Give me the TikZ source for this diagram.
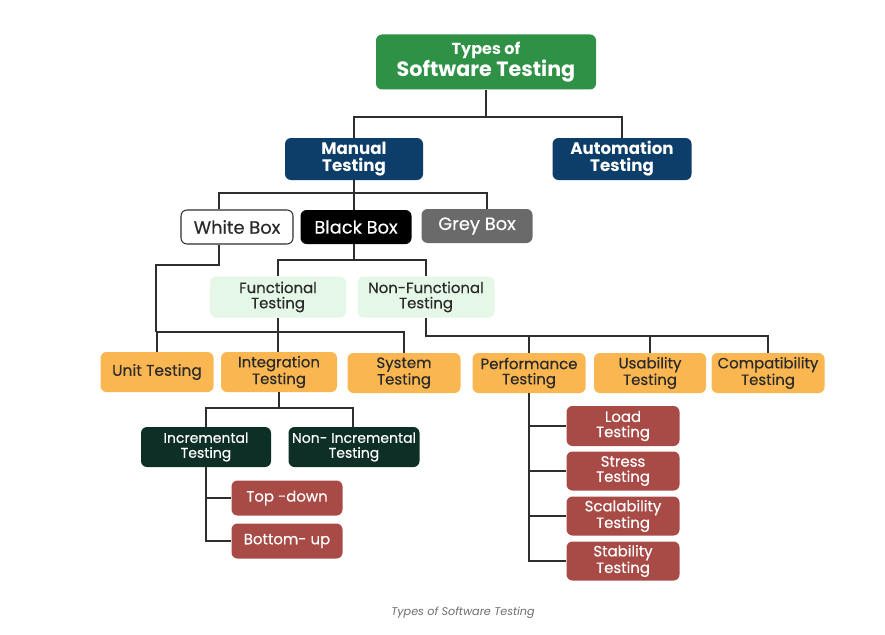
\documentclass[tikz,border=0pt]{standalone}
\usepackage{fontspec}
\setmainfont{Poppins}
\newfontfamily\medfont{Poppins}[FakeBold=0.35]
\usetikzlibrary{calc}
\definecolor{cgreen}{HTML}{2F9146}
\definecolor{cblue}{HTML}{0D3E69}
\definecolor{cgrey}{HTML}{6A6A6A}
\definecolor{clgreen}{HTML}{E5F7E7}
\definecolor{corange}{HTML}{FAB650}
\definecolor{cdkgreen}{HTML}{0E2F25}
\definecolor{cred}{HTML}{A84A45}
\definecolor{cline}{HTML}{2E2E2E}
\definecolor{ctext}{HTML}{2A2A2A}
\definecolor{ccap}{HTML}{6E6E6E}
\begin{document}
\begin{tikzpicture}[x=0.75pt,y=-0.75pt,
  box/.style={rounded corners=4.5pt, align=center, inner sep=0pt, font=\medfont\fontsize{11.2}{11.4}\selectfont},
  conn/.style={draw=cline, line width=2.1pt},
  rootbox/.style={box, fill=cgreen, text=white, font=\rmfamily\bfseries},
  bluebox/.style={box, fill=cblue, text=white, font=\rmfamily\fontsize{12.5}{12.6}\selectfont\bfseries},
  orangebox/.style={box, fill=corange, text=ctext},
  lgbox/.style={box, fill=clgreen, text=ctext},
  dgbox/.style={box, fill=cdkgreen, text=white, font=\medfont\fontsize{10.5}{11.2}\selectfont},
  redbox/.style={box, fill=cred, text=white},
  wbstyle/.style={box, font=\medfont\fontsize{13.4}{14}\selectfont},
]
\useasboundingbox[fill=white] (0,0) rectangle (885,635);

% nodes
\node[rootbox, minimum width=220*0.75pt, minimum height=55*0.75pt] (root) at (486,62)
  {{\fontsize{12}{13}\selectfont Types of}\\[0pt]{\fontsize{15.5}{15.5}\selectfont Software Testing}};
\node[bluebox, minimum width=138*0.75pt, minimum height=42*0.75pt] (man) at (354,159) {Manual\\Testing};
\node[bluebox, minimum width=139*0.75pt, minimum height=42*0.75pt] (auto) at (622,159) {Automation\\Testing};

\node[wbstyle, draw=cline, line width=0.8pt, fill=white, text=ctext, minimum width=112*0.75pt, minimum height=34*0.75pt] (wb) at (237,227) {White Box};
\node[wbstyle, fill=black, text=white, minimum width=111*0.75pt, minimum height=34*0.75pt] (bb) at (356,227) {Black Box};
\node[wbstyle, fill=cgrey, text=white, minimum width=111*0.75pt, minimum height=34*0.75pt] (gb) at (477,226) {Grey Box};

\node[lgbox, minimum width=136*0.75pt, minimum height=41*0.75pt] (fun) at (278,297) {Functional\\Testing};
\node[lgbox, minimum width=137*0.75pt, minimum height=41*0.75pt] (nf) at (426,297) {Non-Functional\\Testing};

\node[orangebox, minimum width=113*0.75pt, minimum height=40*0.75pt, font=\medfont\fontsize{11.6}{12}\selectfont] (unit) at (157,372) {Unit Testing};
\node[orangebox, minimum width=116*0.75pt, minimum height=40*0.75pt] (integ) at (279,372) {Integration\\Testing};
\node[orangebox, minimum width=113*0.75pt, minimum height=40*0.75pt] (sys) at (404,373) {System\\Testing};
\node[orangebox, minimum width=113*0.75pt, minimum height=40*0.75pt] (perf) at (529,373) {Performance\\Testing};
\node[orangebox, minimum width=112*0.75pt, minimum height=40*0.75pt] (usa) at (650,373) {Usability\\Testing};
\node[orangebox, minimum width=113*0.75pt, minimum height=40*0.75pt] (comp) at (768,373) {Compatibility\\Testing};

\node[dgbox, minimum width=130*0.75pt, minimum height=40*0.75pt] (inc) at (206,447) {Incremental\\Testing};
\node[dgbox, minimum width=131*0.75pt, minimum height=40*0.75pt] (ninc) at (354,447) {Non- Incremental\\Testing};

\node[redbox, minimum width=111*0.75pt, minimum height=35*0.75pt] (td) at (287,498) {Top -down};
\node[redbox, minimum width=111*0.75pt, minimum height=35*0.75pt] (bu) at (287,541) {Bottom- up};

\node[redbox, minimum width=113*0.75pt, minimum height=40*0.75pt] (load) at (623,426) {Load\\Testing};
\node[redbox, minimum width=113*0.75pt, minimum height=39*0.75pt] (stress) at (623,471) {Stress\\Testing};
\node[redbox, minimum width=113*0.75pt, minimum height=39*0.75pt] (scal) at (623,516) {Scalability\\Testing};
\node[redbox, minimum width=113*0.75pt, minimum height=39*0.75pt] (stab) at (623,561) {Stability\\Testing};

\node[font=\fontsize{8.4}{10}\selectfont\itshape, text=ccap] (cap) at (463,613) {Types of Software Testing};

% junction coordinates
\coordinate (j1) at (486,117);
\coordinate (j2) at (354,193);
\coordinate (wbx) at (219,0);
\coordinate (gbx) at (487,0);
\coordinate (j3) at (354,260);
\coordinate (wbd) at (219,265);
\coordinate (j4) at (156,332);
\coordinate (j5) at (426,336);
\coordinate (j6) at (279,408);
\coordinate (incx) at (206,0);
\coordinate (nincx) at (353,0);
\coordinate (perfx) at (529,0);

% connectors
\draw[conn] (root.south) -- (j1);
\draw[conn] (man.north) |- (j1) -| (auto.north);
\draw[conn] (man.south) -- (j2);
\draw[conn] (wb.north -| wbx) |- (j2) -| (gb.north -| gbx);
\draw[conn] (j2) -- (bb.north -| j2);
\draw[conn] (bb.south -| j3) -- (j3);
\draw[conn] (fun.north) |- (j3) -| (nf.north);
\draw[conn] (wb.south -| wbx) |- (wbd) -| (j4);
\draw[conn] (unit.north) |- (j4 -| sys.north) -- (sys.north);
\draw[conn] (fun.south) -- (fun.south |- integ.north);
\draw[conn] (nf.south) |- (j5 -| comp.north) -- (comp.north);
\draw[conn] (j5 -| perf.north) -- (perf.north);
\draw[conn] (j5 -| usa.north) -- (usa.north);
\draw[conn] (integ.south) -- (j6);
\draw[conn] (inc.north -| incx) |- (j6) -| (ninc.north -| nincx);
\draw[conn] (inc.south -| incx) |- (bu.west);
\draw[conn] (td.west) -- (td.west -| incx);
\draw[conn] (perf.south -| perfx) |- (stab.west);
\draw[conn] (load.west) -- (load.west -| perfx);
\draw[conn] (stress.west) -- (stress.west -| perfx);
\draw[conn] (scal.west) -- (scal.west -| perfx);
\end{tikzpicture}
\end{document}
